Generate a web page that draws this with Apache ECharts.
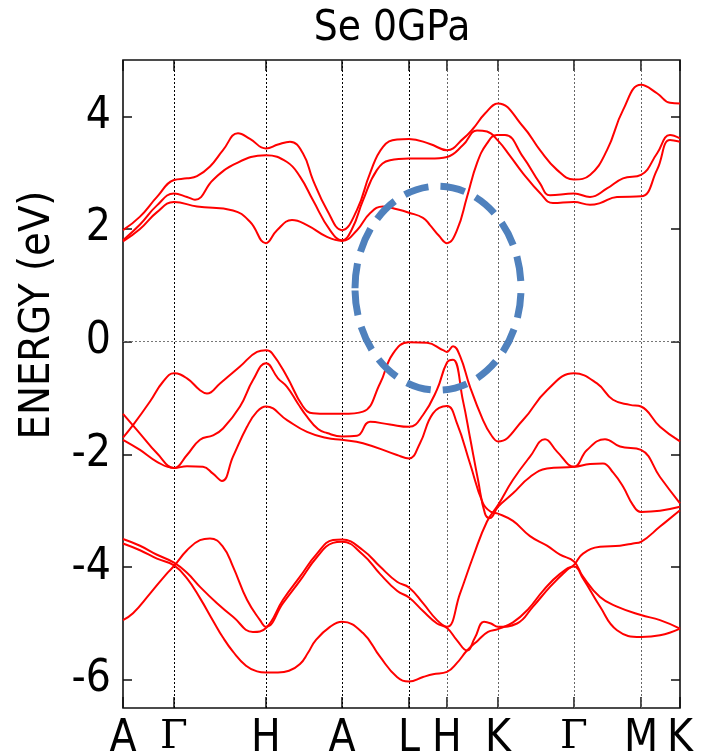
<!DOCTYPE html>
<html>
<head>
<meta charset="utf-8">
<script src="https://cdn.jsdelivr.net/npm/echarts@6/dist/echarts.min.js"></script>
<style>
html,body{margin:0;padding:0;background:#fff;}
#chart{width:705px;height:755px;}
</style>
</head>
<body>
<div id="chart"></div>
<script>
// ---- k-path (distance along path) and labels ----
const kPoints = [0, 51, 143, 219, 286, 324, 375, 451, 518, 557];
const kLabels = ['A', 'Γ', 'H', 'A', 'L', 'H', 'K', 'Γ', 'M', 'K'];
const energyTicks = [-6, -4, -2, 0, 2, 4];
const titleText = 'Se 0GPa';
const yTitle = 'ENERGY (eV)';

// ---- bands: [k-distance, energy eV] ----
const cb3 = [[0,1.98],[17,2.22],[34,2.57],[51,2.87],[64,2.90],[74,2.94],[87,3.11],[100,3.40],[115,3.70],[127,3.60],[143,3.43],[155,3.50],[167,3.55],[180,3.34],[190,2.87],[204,2.34],[219,1.98],[234,2.34],[247,2.99],[260,3.46],[274,3.59],[286,3.60],[307,3.51],[324,3.40],[340,3.60],[350,3.78],[362,4.05],[375,4.23],[400,3.82],[417,3.40],[434,3.05],[451,2.88],[467,2.96],[484,3.40],[500,4.11],[518,4.56],[534,4.41],[547,4.24],[557,4.23]];
const cb2 = [[0,1.80],[17,2.08],[34,2.42],[51,2.63],[64,2.57],[72,2.52],[90,2.87],[110,3.14],[143,3.31],[164,3.19],[177,2.93],[190,2.51],[207,1.98],[219,1.80],[229,2.00],[240,2.51],[254,3.05],[267,3.22],[286,3.25],[307,3.25],[324,3.28],[340,3.49],[354,3.75],[364,3.73],[375,3.57],[387,3.30],[400,2.99],[417,2.64],[430,2.46],[451,2.48],[467,2.43],[477,2.46],[494,2.57],[518,2.58],[534,3.05],[547,3.58],[557,3.55]];
const cb1 = [[0,1.78],[17,2.00],[34,2.30],[51,2.48],[74,2.40],[110,2.33],[127,2.13],[143,1.75],[154,1.98],[169,2.16],[184,2.07],[204,1.86],[219,1.79],[234,1.98],[247,2.28],[260,2.40],[274,2.35],[286,2.29],[300,2.20],[307,2.07],[316,1.88],[324,1.75],[334,1.98],[344,2.57],[354,3.17],[364,3.52],[374,3.67],[382,3.67],[400,3.28],[417,2.81],[427,2.60],[451,2.63],[467,2.57],[484,2.72],[500,2.90],[518,2.96],[534,3.34],[547,3.67],[557,3.61]];

const vb1 = [[0,-1.70],[10,-1.48],[27,-1.06],[40,-0.71],[51,-0.56],[64,-0.65],[77,-0.86],[84,-0.92],[97,-0.74],[117,-0.44],[134,-0.18],[143,-0.15],[149,-0.20],[164,-0.62],[180,-1.15],[190,-1.27],[205,-1.28],[219,-1.28],[240,-1.24],[257,-0.74],[270,-0.21],[286,-0.01],[304,-0.02],[320,-0.15],[324,-0.18],[330,-0.08],[337,-0.25],[347,-0.80],[360,-1.39],[368,-1.65],[375,-1.77],[400,-1.39],[424,-0.86],[451,-0.56],[474,-0.74],[490,-1.03],[507,-1.12],[518,-1.15],[537,-1.51],[557,-1.77]];
const vb2 = [[0,-1.28],[17,-1.63],[34,-1.98],[51,-2.24],[64,-2.01],[77,-1.74],[90,-1.66],[100,-1.54],[117,-1.15],[130,-0.68],[143,-0.38],[155,-0.65],[164,-0.80],[175,-1.10],[184,-1.33],[195,-1.55],[204,-1.62],[219,-1.68],[234,-1.67],[247,-1.42],[267,-1.47],[286,-1.51],[300,-1.30],[314,-0.85],[324,-0.37],[330,-0.32],[340,-1.05],[347,-1.70],[355,-2.45],[362,-3.05],[367,-3.13],[375,-2.93],[390,-2.69],[407,-2.40],[424,-2.25],[451,-2.22],[467,-2.17],[480,-2.16],[490,-2.32],[500,-2.57],[510,-2.90],[518,-3.02],[537,-3.00],[557,-2.93]];
const vb3 = [[0,-1.74],[17,-1.92],[34,-2.13],[51,-2.24],[64,-2.21],[80,-2.22],[90,-2.34],[99,-2.47],[110,-2.04],[124,-1.51],[134,-1.24],[143,-1.15],[164,-1.39],[184,-1.60],[204,-1.71],[219,-1.74],[240,-1.80],[274,-2.01],[286,-2.07],[297,-1.80],[310,-1.27],[324,-1.14],[334,-1.45],[347,-2.16],[360,-2.87],[368,-3.02],[375,-3.05],[390,-3.18],[407,-3.45],[424,-3.62],[437,-3.78],[451,-3.90],[460,-4.17],[477,-4.53],[494,-4.70],[518,-4.85],[537,-4.94],[557,-5.09]];
const lv1 = [[0,-3.50],[17,-3.62],[34,-3.78],[51,-3.92],[64,-4.10],[77,-4.35],[94,-4.64],[110,-4.88],[130,-5.15],[143,-5.08],[160,-4.58],[177,-4.17],[194,-3.76],[210,-3.52],[219,-3.51],[240,-3.70],[257,-3.99],[274,-4.26],[286,-4.36],[300,-4.64],[314,-4.94],[324,-5.06],[337,-4.47],[350,-3.82],[364,-3.19],[375,-2.90],[390,-2.45],[407,-2.04],[422,-1.73],[434,-1.95],[451,-2.22],[464,-1.92],[482,-1.73],[497,-1.86],[518,-1.92],[537,-2.40],[557,-2.87]];
const lv2 = [[0,-4.94],[10,-4.82],[27,-4.47],[44,-4.11],[51,-3.98],[64,-3.70],[77,-3.52],[87,-3.49],[100,-3.64],[110,-3.99],[124,-4.58],[137,-4.94],[143,-5.06],[160,-4.64],[177,-4.24],[194,-3.82],[210,-3.57],[219,-3.55],[240,-3.78],[257,-4.12],[274,-4.42],[286,-4.54],[300,-4.78],[314,-5.00],[324,-5.08],[334,-5.30],[344,-5.48],[352,-5.25],[361,-4.97],[368,-5.00],[375,-5.06],[394,-5.00],[410,-4.70],[427,-4.35],[444,-4.05],[451,-3.96],[460,-3.76],[477,-3.64],[497,-3.62],[510,-3.58],[518,-3.55],[537,-3.28],[557,-2.99]];
const lv3 = [[0,-3.58],[17,-3.70],[34,-3.85],[51,-3.97],[64,-4.20],[77,-4.55],[90,-4.95],[100,-5.25],[110,-5.50],[123,-5.75],[134,-5.85],[143,-5.87],[155,-5.87],[166,-5.84],[177,-5.72],[185,-5.52],[193,-5.29],[207,-5.06],[219,-4.97],[240,-5.17],[257,-5.59],[274,-5.95],[286,-6.03],[300,-5.95],[310,-5.90],[324,-5.86],[334,-5.70],[344,-5.48],[355,-5.30],[365,-5.15],[375,-5.10],[390,-4.98],[405,-4.75],[420,-4.42],[437,-4.12],[451,-3.99],[460,-4.20],[477,-4.70],[494,-5.12],[518,-5.24],[537,-5.21],[557,-5.09]];

const bands = [cb3, cb2, cb1, vb1, vb2, vb3, lv1, lv2, lv3];

// annotation ellipse in data units: centre k, centre E, half-width k, half-height E
const ringCentre = [315, 0.95];
const ringHalf = [83, 1.81];

const FONT = "'Liberation Sans Narrow','DejaVu Sans Condensed','Liberation Sans',sans-serif";
const SERIF = "'DejaVu Serif','Liberation Serif',serif";
const chart = echarts.init(document.getElementById('chart'), null, {renderer: 'canvas'});

const gridLines = kPoints.slice(1, -1).map((k, i) => ({
  xAxis: k,
  lineStyle: {color: i < 4 ? '#000' : '#666', type: [2, 2], width: 1}
}));
gridLines.push({yAxis: 0, lineStyle: {color: '#777', type: [2, 2], width: 1}});

const series = bands.map((b, i) => ({
  type: 'line',
  data: b,
  showSymbol: false,
  smooth: 0.45,
  silent: true,
  z: 3,
  lineStyle: {color: '#ff0000', width: 2},
  markLine: i === 0 ? {
    silent: true, symbol: 'none', label: {show: false},
    data: gridLines, z: 1, animation: false
  } : undefined
}));

const labelFor = v => {
  const i = kPoints.indexOf(v);
  if (i < 0) return '';
  return kLabels[i] === 'Γ' ? '{g|Γ}' : kLabels[i];
};

const tickStyle = {color: '#111', width: 1.5};

chart.setOption({
  animation: false,
  grid: {left: 123, top: 60, right: 25, bottom: 47, show: true, containLabel: false, outerBoundsMode: 'none',
    borderColor: '#111', borderWidth: 1.6, backgroundColor: 'transparent'},
  xAxis: [{
    type: 'value', min: 0, max: 557, position: 'bottom',
    axisLine: {show: false, onZero: false},
    axisTick: {show: true, inside: true, length: 11, customValues: kPoints, lineStyle: tickStyle},
    axisLabel: {show: true, customValues: kPoints, formatter: labelFor, margin: 10,
      fontFamily: FONT, fontSize: 44, color: '#000',
      rich: {g: {fontFamily: SERIF, fontSize: 40, color: '#000'}}},
    splitLine: {show: false}
  }, {
    type: 'value', min: 0, max: 557, position: 'top',
    axisLine: {show: false, onZero: false},
    axisTick: {show: true, inside: true, length: 11, customValues: kPoints, lineStyle: tickStyle},
    axisLabel: {show: false},
    splitLine: {show: false}
  }],
  yAxis: [{
    type: 'value', min: -6.5, max: 5, position: 'left',
    axisLine: {show: false, onZero: false},
    axisTick: {show: true, inside: true, length: 9, customValues: energyTicks, lineStyle: tickStyle},
    axisLabel: {show: true, customValues: energyTicks, margin: 12,
      fontFamily: FONT, fontSize: 44, color: '#000', formatter: v => String(v)},
    splitLine: {show: false}
  }, {
    type: 'value', min: -6.5, max: 5, position: 'right',
    axisLine: {show: false, onZero: false},
    axisTick: {show: true, inside: true, length: 9, customValues: energyTicks, lineStyle: tickStyle},
    axisLabel: {show: false},
    splitLine: {show: false}
  }],
  series: series
});

const c = chart.convertToPixel({gridIndex: 0}, ringCentre);
const e1 = chart.convertToPixel({gridIndex: 0}, [ringCentre[0] + ringHalf[0], ringCentre[1] + ringHalf[1]]);
chart.setOption({
  graphic: [
    {type: 'text', x: 392, y: 8, z: 10,
      style: {text: titleText, font: "42px " + FONT, fill: '#000', textAlign: 'center', textVerticalAlign: 'top'}},
    {type: 'text', x: 38, y: 315, rotation: Math.PI / 2, z: 10,
      style: {text: yTitle, font: "43px " + FONT, fill: '#000', textAlign: 'center', textVerticalAlign: 'middle'}},
    {type: 'ellipse', z: 100,
      shape: {cx: c[0], cy: c[1], rx: Math.abs(e1[0] - c[0]), ry: Math.abs(c[1] - e1[1])},
      style: {fill: 'none', stroke: '#4f81bd', lineWidth: 7, lineDash: [25, 12]}}
  ]
});
</script>
</body>
</html>
